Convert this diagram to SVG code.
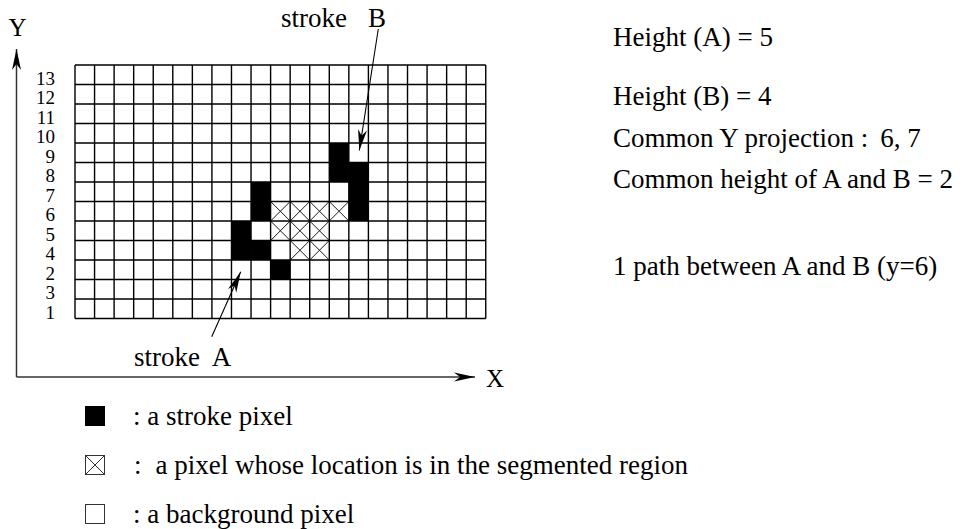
<svg xmlns="http://www.w3.org/2000/svg" xmlns:xlink="http://www.w3.org/1999/xlink" width="962" height="529" viewBox="0 0 962 529">
<style>
text{font-family:"Liberation Serif","Times New Roman",serif;fill:#000}
.big{font-size:27px}
.ax{font-size:25px}
.num{font-size:19px;text-anchor:end}
.grid{fill:none;stroke:#000;stroke-width:1.4}
.blk{fill:#000}
.xc{fill:none;stroke:#000;stroke-width:0.9}
.axis{fill:none;stroke:#333;stroke-width:1.5}
.lead{fill:none;stroke:#000;stroke-width:1.1}
.leg{fill:#fff;stroke:#333;stroke-width:1}
</style>
<defs>
<marker id="ah" markerUnits="userSpaceOnUse" markerWidth="30" markerHeight="14" viewBox="-22 -7 24 14" refX="0" refY="0" orient="auto" overflow="visible">
<path d="M0,0 L-21,-4.5 L-15,0 L-21,4.5 Z" fill="#000"/>
</marker>
<path id="cx" d="M0,0 L19.56,19.5 M19.56,0 L0,19.5"/>
</defs>

<g id="axes">
<line class="axis" x1="16.5" y1="377" x2="16.5" y2="49" marker-end="url(#ah)"/>
<line class="axis" x1="16.5" y1="377" x2="475" y2="377" marker-end="url(#ah)"/>
<text class="ax" x="17.5" y="36" text-anchor="middle">Y</text>
<text class="ax" x="486" y="387">X</text>
</g>

<g id="row-labels">
<text class="num" x="55" y="84.5">13</text>
<text class="num" x="55" y="104">12</text>
<text class="num" x="55" y="123.5">11</text>
<text class="num" x="55" y="143">10</text>
<text class="num" x="55" y="162.5">9</text>
<text class="num" x="55" y="182">8</text>
<text class="num" x="55" y="201.5">7</text>
<text class="num" x="55" y="221">6</text>
<text class="num" x="55" y="240.5">5</text>
<text class="num" x="55" y="260">4</text>
<text class="num" x="55" y="279.5">2</text>
<text class="num" x="55" y="299">3</text>
<text class="num" x="55" y="318.5">1</text>
</g>

<g id="pixels">
<rect class="blk" x="251.04" y="182" width="19.56" height="39"/>
<rect class="blk" x="231.48" y="221" width="19.56" height="39"/>
<rect class="blk" x="251.04" y="240.5" width="19.56" height="19.5"/>
<rect class="blk" x="270.6" y="260" width="19.56" height="19.5"/>
<rect class="blk" x="329.28" y="143" width="19.56" height="39"/>
<rect class="blk" x="348.84" y="162.5" width="19.56" height="58.5"/>
</g>

<g id="segmented-region" class="xc">
<use xlink:href="#cx" x="270.6" y="201.5"/>
<use xlink:href="#cx" x="290.16" y="201.5"/>
<use xlink:href="#cx" x="309.72" y="201.5"/>
<use xlink:href="#cx" x="329.28" y="201.5"/>
<use xlink:href="#cx" x="270.6" y="221"/>
<use xlink:href="#cx" x="290.16" y="221"/>
<use xlink:href="#cx" x="309.72" y="221"/>
<use xlink:href="#cx" x="290.16" y="240.5"/>
<use xlink:href="#cx" x="309.72" y="240.5"/>
</g>

<g id="grid">
<path class="grid" d="M75,65 V318.5 M94.56,65 V318.5 M114.12,65 V318.5 M133.68,65 V318.5 M153.24,65 V318.5 M172.8,65 V318.5 M192.36,65 V318.5 M211.92,65 V318.5 M231.48,65 V318.5 M251.04,65 V318.5 M270.6,65 V318.5 M290.16,65 V318.5 M309.72,65 V318.5 M329.28,65 V318.5 M348.84,65 V318.5 M368.4,65 V318.5 M387.96,65 V318.5 M407.52,65 V318.5 M427.08,65 V318.5 M446.64,65 V318.5 M466.2,65 V318.5 M485.76,65 V318.5 M75,65 H485.76 M75,84.5 H485.76 M75,104 H485.76 M75,123.5 H485.76 M75,143 H485.76 M75,162.5 H485.76 M75,182 H485.76 M75,201.5 H485.76 M75,221 H485.76 M75,240.5 H485.76 M75,260 H485.76 M75,279.5 H485.76 M75,299 H485.76 M75,318.5 H485.76"/>
</g>

<g id="connectors">
<line class="lead" x1="378.3" y1="29" x2="359.3" y2="150.5" marker-end="url(#ah)"/>
<line class="lead" x1="211.7" y1="336.7" x2="240.7" y2="271.7" marker-end="url(#ah)"/>
</g>

<g id="label-stroke-B">
<text class="big" x="281" y="27">stroke<tspan x="368">B</tspan></text>
</g>
<g id="label-stroke-A">
<text class="big" x="134" y="366">stroke<tspan x="211.7">A</tspan></text>
</g>

<g id="info">
<text class="big" x="613" y="46">Height (A) = 5</text>
<text class="big" x="613" y="105">Height (B) = 4</text>
<text class="big" x="613" y="147">Common Y projection :<tspan dx="12">6, 7</tspan></text>
<text class="big" x="613" y="188">Common height of A and B = 2</text>
<text class="big" x="613" y="275">1 path between A and B (y=6)</text>
</g>

<g id="legend">
<rect class="blk" x="85" y="406" width="20" height="20"/>
<text class="big" x="133" y="425">: a stroke pixel</text>
<rect class="leg" x="85.5" y="455.5" width="19" height="19"/>
<path class="leg" d="M85.5,455.5 L104.5,474.5 M104.5,455.5 L85.5,474.5"/>
<text class="big" x="134" y="474">:<tspan dx="14">a pixel whose location is in the segmented region</tspan></text>
<rect class="leg" x="85.5" y="504.5" width="19" height="19"/>
<text class="big" x="133" y="523">: a background pixel</text>
</g>
</svg>
